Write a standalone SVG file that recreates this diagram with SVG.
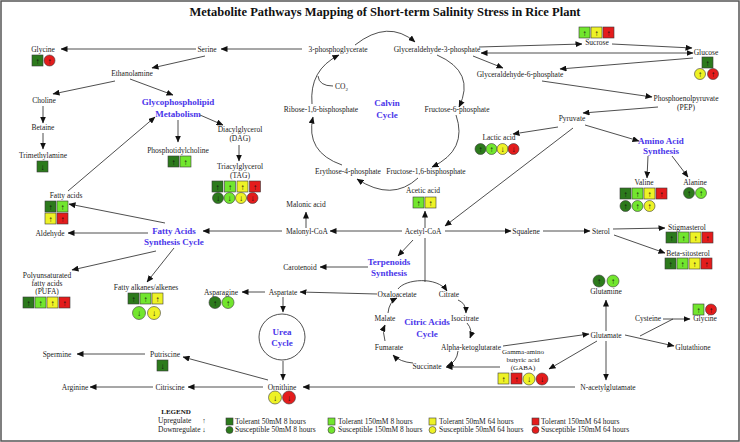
<svg xmlns="http://www.w3.org/2000/svg" width="740" height="442" viewBox="0 0 740 442">
<defs>
<marker id="ah" markerUnits="userSpaceOnUse" markerWidth="7" markerHeight="6" refX="6.5" refY="3" orient="auto">
<path d="M0,0 L7,3 L0,6 z" fill="#111"/>
</marker>
<marker id="as" markerUnits="userSpaceOnUse" markerWidth="7" markerHeight="6" refX="0.5" refY="3" orient="auto">
<path d="M7,0 L0,3 L7,6 z" fill="#111"/>
</marker>
</defs>
<style>
text{font-family:"Liberation Serif","Times New Roman",serif}
.t{font-size:7.5px;fill:#222;text-anchor:middle}
.ts{font-size:7px;fill:#222;text-anchor:middle}
.tl{font-size:7.5px;fill:#222;text-anchor:start}
.b{font-size:9px;font-weight:bold;fill:#4a35ea;text-anchor:middle}
.ttl{font-size:12.5px;font-weight:bold;fill:#111;text-anchor:middle}
.ln{stroke:#222;stroke-width:0.8;fill:none}
.a{marker-end:url(#ah)}
.ind{stroke:#3a3a3a;stroke-width:0.6}
.dg{fill:#2c7a1c}.lg{fill:#72e62e}.yl{fill:#eef226}.rd{fill:#e41c1c}
.ar{font-size:8px;fill:#111;text-anchor:middle}
</style>
<rect x="1" y="1" width="738" height="440" fill="#fff" stroke="#555" stroke-width="1.5"/>
<text class="ttl" x="385" y="16">Metabolite Pathways Mapping of Short-term Salinity Stress in Rice Plant</text>

<g id="connectors">
<path class="ln a" d="M196,49 L61,49"/>
<path class="ln a" d="M302,49 L221,49"/>
<path class="ln a" d="M205,56 L152,68"/>
<path class="ln a" d="M115,81 L53,94"/>
<path class="ln a" d="M130,79 L173,95"/>
<path class="ln a" d="M43,106 L43,123"/>
<path class="ln a" d="M43,133 L43,149"/>
<path class="ln a" d="M178,120 L178,142"/>
<path class="ln a" d="M200,115 L223,125"/>
<path class="ln a" d="M239,145 L239,161"/>
<path class="ln a" d="M68,191 L155,117"/>
<path class="ln a" d="M165,223 L69,204"/>
<path class="ln a" d="M282,231 L203,231"/>
<path class="ln a" d="M148,233 L68,233"/>
<path class="ln a" d="M156,251 L72,270"/>
<path class="ln a" d="M174,248 L147,282"/>
<path class="ln a" d="M306,228 L306,212"/>
<path class="ln a" d="M402,231 L330,231"/>
<path class="ln a" d="M425,228 L425,211"/>
<path class="ln a" d="M445,231 L511,231"/>
<path class="ln a" d="M543,231 L590,231"/>
<path class="ln a" d="M613,229 L665,228"/>
<path class="ln a" d="M614,235 L665,253"/>
<path class="ln a" d="M413,240 L398,256"/>
<path class="ln a" d="M368,267 L320,267"/>
<path class="ln" d="M425,238 L425,282"/>
<path class="ln a" d="M398,289 C405,279 437,276 447,291"/>
<path class="ln a" d="M377,294 L300,292"/>
<path class="ln a" d="M265,292 L242,292"/>
<path class="ln a" d="M283,297 L283,312"/>
<circle class="ln" cx="282" cy="337" r="23"/>
<path class="ln a" d="M283,361 L283,380"/>
<path class="ln a" d="M268,380 L183,357"/>
<path class="ln a" d="M263,387 L188,387"/>
<path class="ln a" d="M153,387 L90,387"/>
<path class="ln a" d="M145,354 L77,354"/>
<path class="ln a" d="M575,387 L303,387"/>
<path class="ln a" d="M458,300 Q466,303 466,313"/>
<path class="ln a" d="M467,323 Q473,330 470,338"/>
<path class="ln a" d="M458,351 Q457,362 447,366"/>
<path class="ln a" d="M413,363 Q400,362 393,355"/>
<path class="ln a" d="M385,341 Q382,332 385,325"/>
<path class="ln a" d="M388,313 Q389,302 397,298"/>
<path class="ln a" d="M500,367 L446,367"/>
<path class="ln a" d="M503,346 L589,334"/>
<path class="ln a" d="M606,331 L606,300"/>
<path class="ln a" d="M625,335 L674,346"/>
<path class="ln a" d="M597,341 L549,369"/>
<path class="ln a" d="M606,341 L606,380"/>
<path class="ln" d="M640,336 L673,319"/>
<path class="ln a" d="M663,319 L690,319"/>
<path class="ln a" d="M573,128 L445,226"/>
<path class="ln a" d="M558,127 L513,134"/>
<path class="ln a" d="M585,125 L639,141"/>
<path class="ln a" d="M648,156 L647,178"/>
<path class="ln a" d="M672,156 L688,177"/>
<path class="ln a" d="M658,107 L583,113"/>
<path class="ln a" d="M542,81 L652,97"/>
<path class="ln a" d="M693,58 L560,69"/>
<path class="ln a" d="M473,56 L503,68"/>
<path class="ln a" d="M479,47 L582,44"/>
<path class="ln a" d="M612,44 L692,48"/>
<path class="ln a" d="M481,53 L693,53" marker-start="url(#as)"/>
<path class="ln a" d="M355,45 Q388,19 415,42"/>
<path class="ln a" d="M437,55 Q476,72 459,107"/>
<path class="ln a" d="M456,115 Q468,150 432,167"/>
<path class="ln a" d="M418,178 Q392,202 357,179"/>
<path class="ln a" d="M342,165 Q305,152 313,117"/>
<path class="ln a" d="M312,104 Q309,70 339,55"/>
<path class="ln" d="M333,86 Q319,86 318,76"/>
</g>

<g id="glycine">
<text class="t" x="43" y="52">Glycine</text>
<rect class="ind dg" x="32" y="55" width="11" height="11"/><text class="ar" x="37.5" y="63.5">↑</text>
<circle class="ind rd" cx="49.5" cy="60.5" r="5.5"/><text class="ar" x="49.5" y="63.5">↑</text>
</g>
<g id="serine"><text class="t" x="207" y="52">Serine</text></g>
<g id="pg3"><text class="t" x="338" y="52">3-phosphoglycerate</text></g>
<g id="g3p"><text class="t" x="437" y="52">Glyceraldehyde-3-phosphate</text></g>
<g id="sucrose">
<text class="t" x="597" y="45">Sucrose</text>
<rect class="ind lg" x="579" y="27" width="11" height="11"/><text class="ar" x="584.5" y="35.5">↑</text>
<rect class="ind yl" x="591" y="27" width="11" height="11"/><text class="ar" x="596.5" y="35.5">↑</text>
<rect class="ind rd" x="603" y="27" width="11" height="11"/><text class="ar" x="608.5" y="35.5">↑</text>
</g>
<g id="glucose">
<text class="t" x="706" y="55">Glucose</text>
<rect class="ind dg" x="702" y="57" width="11" height="11"/><text class="ar" x="707.5" y="65.5">↑</text>
<circle class="ind yl" cx="700" cy="74" r="5.5"/><text class="ar" x="700" y="77">↑</text>
<circle class="ind rd" cx="713" cy="74" r="5.5"/><text class="ar" x="713" y="77">↑</text>
</g>
<g id="g6p"><text class="t" x="520" y="77">Glyceraldehyde-6-phosphate</text></g>
<g id="pep"><text class="t" x="686" y="101">Phosphoenolpyruvate</text><text class="t" x="686" y="110">(PEP)</text></g>
<g id="pyruvate"><text class="t" x="572" y="121">Pyruvate</text></g>
<g id="lactic">
<text class="t" x="499" y="140">Lactic acid</text>
<circle class="ind dg" cx="480.5" cy="149" r="5.5"/><text class="ar" x="480.5" y="152">↑</text>
<circle class="ind lg" cx="491.5" cy="149" r="5.5"/><text class="ar" x="491.5" y="152">↑</text>
<circle class="ind yl" cx="502.5" cy="149" r="5.5"/><text class="ar" x="502.5" y="152">↓</text>
<circle class="ind rd" cx="513.5" cy="149" r="5.5"/><text class="ar" x="513.5" y="152">↓</text>
</g>
<g id="aas"><text class="b" x="661" y="144">Amino Acid</text><text class="b" x="661" y="154">Synthesis</text></g>
<g id="valine">
<text class="t" x="644" y="185">Valine</text>
<rect class="ind dg" x="620" y="188" width="11" height="11"/><text class="ar" x="625.5" y="196.5">↑</text>
<rect class="ind lg" x="632" y="188" width="11" height="11"/><text class="ar" x="637.5" y="196.5">↑</text>
<rect class="ind yl" x="644" y="188" width="11" height="11"/><text class="ar" x="649.5" y="196.5">↑</text>
<rect class="ind rd" x="656" y="188" width="11" height="11"/><text class="ar" x="661.5" y="196.5">↑</text>
<circle class="ind dg" cx="625.5" cy="206" r="5.5"/><text class="ar" x="625.5" y="209">↑</text>
<circle class="ind lg" cx="637.5" cy="206" r="5.5"/><text class="ar" x="637.5" y="209">↑</text>
<circle class="ind yl" cx="649.5" cy="206" r="5.5"/><text class="ar" x="649.5" y="209">↑</text>
</g>
<g id="alanine">
<text class="t" x="695" y="185">Alanine</text>
<circle class="ind dg" cx="689" cy="193" r="5.5"/><text class="ar" x="689" y="196">↑</text>
<circle class="ind lg" cx="701" cy="193" r="5.5"/><text class="ar" x="701" y="196">↑</text>
</g>
<g id="ethanolamine"><text class="t" x="132" y="76">Ethanolamine</text></g>
<g id="choline"><text class="t" x="44" y="103">Choline</text></g>
<g id="glyco"><text class="b" x="178" y="105">Glycophospholipid</text><text class="b" x="178" y="117">Metabolism</text></g>
<g id="betaine"><text class="t" x="43" y="130">Betaine</text></g>
<g id="trimethylamine">
<text class="t" x="43" y="158">Trimethylamine</text>
<rect class="ind dg" x="37" y="161" width="11" height="11"/><text class="ar" x="42.5" y="169.5">↓</text>
</g>
<g id="phosphotidylcholine">
<text class="t" x="178" y="153">Phosphotidylcholine</text>
<rect class="ind dg" x="168" y="156" width="11" height="11"/><text class="ar" x="173.5" y="164.5">↑</text>
<rect class="ind lg" x="180" y="156" width="11" height="11"/><text class="ar" x="185.5" y="164.5">↑</text>
</g>
<g id="dag"><text class="t" x="240" y="132">Diacylglycerol</text><text class="t" x="240" y="141">(DAG)</text></g>
<g id="tag">
<text class="t" x="240" y="169">Triacylglycerol</text><text class="t" x="240" y="178">(TAG)</text>
<rect class="ind dg" x="212" y="181" width="11" height="11"/><text class="ar" x="217.5" y="189.5">↑</text>
<rect class="ind lg" x="224.5" y="181" width="11" height="11"/><text class="ar" x="230" y="189.5">↑</text>
<rect class="ind yl" x="237" y="181" width="11" height="11"/><text class="ar" x="242.5" y="189.5">↑</text>
<rect class="ind rd" x="249.5" y="181" width="11" height="11"/><text class="ar" x="255" y="189.5">↑</text>
<circle class="ind dg" cx="218" cy="198" r="5.5"/><text class="ar" x="218" y="201">↓</text>
<circle class="ind lg" cx="229.5" cy="198" r="5.5"/><text class="ar" x="229.5" y="201">↓</text>
<circle class="ind yl" cx="241" cy="198" r="5.5"/><text class="ar" x="241" y="201">↓</text>
<circle class="ind rd" cx="252.5" cy="198" r="5.5"/><text class="ar" x="252.5" y="201">↓</text>
</g>
<g id="fattyacids">
<text class="t" x="66" y="198">Fatty acids</text>
<rect class="ind dg" x="45" y="201" width="11" height="11"/><text class="ar" x="50.5" y="209.5">↑</text>
<rect class="ind lg" x="57" y="201" width="11" height="11"/><text class="ar" x="62.5" y="209.5">↑</text>
<rect class="ind yl" x="45" y="213" width="11" height="11"/><text class="ar" x="50.5" y="221.5">↑</text>
<rect class="ind rd" x="57" y="213" width="11" height="11"/><text class="ar" x="62.5" y="221.5">↑</text>
</g>
<g id="fasc"><text class="b" x="174" y="234">Fatty Acids</text><text class="b" x="174" y="245">Synthesis Cycle</text></g>
<g id="aldehyde"><text class="t" x="50" y="236">Aldehyde</text></g>
<g id="malonic"><text class="t" x="306" y="207">Malonic acid</text></g>
<g id="malonylcoa"><text class="t" x="307" y="234">Malonyl-CoA</text></g>
<g id="acetic">
<text class="t" x="423" y="193">Acetic acid</text>
<rect class="ind lg" x="413" y="197" width="11" height="11"/><text class="ar" x="418.5" y="205.5">↑</text>
<rect class="ind yl" x="425" y="197" width="11" height="11"/><text class="ar" x="430.5" y="205.5">↑</text>
</g>
<g id="acetylcoa"><text class="t" x="423" y="234">Acetyl-CoA</text></g>
<g id="squalene"><text class="t" x="526" y="234">Squalene</text></g>
<g id="sterol"><text class="t" x="601" y="234">Sterol</text></g>
<g id="stigmasterol">
<text class="t" x="687" y="230">Stigmasterol</text>
<rect class="ind dg" x="666" y="232" width="11" height="11"/><text class="ar" x="671.5" y="240.5">↑</text>
<rect class="ind lg" x="678" y="232" width="11" height="11"/><text class="ar" x="683.5" y="240.5">↑</text>
<rect class="ind yl" x="690" y="232" width="11" height="11"/><text class="ar" x="695.5" y="240.5">↑</text>
<rect class="ind rd" x="702" y="232" width="11" height="11"/><text class="ar" x="707.5" y="240.5">↑</text>
</g>
<g id="betasitosterol">
<text class="t" x="688" y="256">Beta-sitosterol</text>
<rect class="ind dg" x="665" y="258" width="11" height="11"/><text class="ar" x="670.5" y="266.5">↑</text>
<rect class="ind lg" x="677" y="258" width="11" height="11"/><text class="ar" x="682.5" y="266.5">↑</text>
<rect class="ind yl" x="689" y="258" width="11" height="11"/><text class="ar" x="694.5" y="266.5">↑</text>
<rect class="ind rd" x="701" y="258" width="11" height="11"/><text class="ar" x="706.5" y="266.5">↑</text>
</g>
<g id="terpenoids"><text class="b" x="389" y="265">Terpenoids</text><text class="b" x="389" y="276">Synthesis</text></g>
<g id="carotenoid"><text class="t" x="300" y="270">Carotenoid</text></g>
<g id="pufa">
<text class="t" x="47" y="278">Polyunsaturated</text><text class="t" x="47" y="286">fatty acids</text><text class="t" x="47" y="294">(PUFA)</text>
<rect class="ind dg" x="23" y="297" width="11" height="11"/><text class="ar" x="28.5" y="305.5">↑</text>
<rect class="ind lg" x="35" y="297" width="11" height="11"/><text class="ar" x="40.5" y="305.5">↑</text>
<rect class="ind yl" x="47" y="297" width="11" height="11"/><text class="ar" x="52.5" y="305.5">↑</text>
<rect class="ind rd" x="59" y="297" width="11" height="11"/><text class="ar" x="64.5" y="305.5">↑</text>
</g>
<g id="alkanes">
<text class="t" x="146" y="290">Fatty alkanes/alkenes</text>
<rect class="ind dg" x="128" y="293" width="11" height="11"/><text class="ar" x="133.5" y="301.5">↑</text>
<rect class="ind lg" x="140" y="293" width="11" height="11"/><text class="ar" x="145.5" y="301.5">↑</text>
<rect class="ind yl" x="152" y="293" width="11" height="11"/><text class="ar" x="157.5" y="301.5">↑</text>
<circle class="ind lg" cx="139" cy="313" r="6.5"/><text class="ar" x="139" y="316">↓</text>
<circle class="ind yl" cx="154" cy="313" r="6.5"/><text class="ar" x="154" y="316">↓</text>
</g>
<g id="asparagine">
<text class="t" x="221" y="295">Asparagine</text>
<circle class="ind dg" cx="215" cy="302.5" r="6"/><text class="ar" x="215" y="305.5">↑</text>
<circle class="ind lg" cx="228" cy="302.5" r="6"/><text class="ar" x="228" y="305.5">↑</text>
</g>
<g id="aspartate"><text class="t" x="283" y="295">Aspartate</text></g>
<g id="oxaloacetate"><text class="t" x="397" y="297">Oxaloacetate</text></g>
<g id="citrate"><text class="t" x="449" y="297">Citrate</text></g>
<g id="glutamine">
<text class="t" x="606" y="294">Glutamine</text>
<circle class="ind dg" cx="599" cy="281" r="6"/><text class="ar" x="599" y="284">↑</text>
<circle class="ind lg" cx="613" cy="281" r="6"/><text class="ar" x="613" y="284">↑</text>
</g>
<g id="malate"><text class="t" x="385" y="321">Malate</text></g>
<g id="isocitrate"><text class="t" x="465" y="321">Isocitrate</text></g>
<g id="citriccycle"><text class="b" x="427" y="325">Citric Acids</text><text class="b" x="427" y="337">Cycle</text></g>
<g id="cysteine"><text class="t" x="648" y="321">Cysteine</text></g>
<g id="glycine2">
<text class="t" x="705" y="321">Glycine</text>
<rect class="ind lg" x="693" y="304" width="11" height="11"/><text class="ar" x="698.5" y="312.5">↑</text>
<circle class="ind rd" cx="711" cy="309.5" r="5.5"/><text class="ar" x="711" y="312.5">↑</text>
</g>
<g id="ureacycle"><text class="b" x="282" y="335">Urea</text><text class="b" x="282" y="346">Cycle</text></g>
<g id="glutamate"><text class="t" x="606" y="338">Glutamate</text></g>
<g id="fumarate"><text class="t" x="389" y="350">Fumarate</text></g>
<g id="akg"><text class="t" x="471" y="350">Alpha-ketoglutarate</text></g>
<g id="glutathione"><text class="t" x="693" y="350">Glutathione</text></g>
<g id="gaba">
<text class="ts" x="523" y="354">Gamma-amino</text><text class="ts" x="523" y="362.2">butyric acid</text><text class="ts" x="523" y="370.4">(GABA)</text>
<rect class="ind yl" x="498" y="373" width="11" height="11"/><text class="ar" x="503.5" y="381.5">↑</text>
<rect class="ind rd" x="511" y="373" width="11" height="11"/><text class="ar" x="516.5" y="381.5">↑</text>
<circle class="ind yl" cx="529" cy="379" r="6"/><text class="ar" x="529" y="382">↓</text>
<circle class="ind rd" cx="542" cy="379" r="6"/><text class="ar" x="542" y="382">↓</text>
</g>
<g id="succinate"><text class="t" x="427" y="369">Succinate</text></g>
<g id="spermine"><text class="t" x="57" y="357">Spermine</text></g>
<g id="putriscine">
<text class="t" x="165" y="357">Putriscine</text>
<rect class="ind dg" x="157" y="360" width="11" height="11"/><text class="ar" x="162.5" y="368.5">↓</text>
</g>
<g id="ornithine">
<text class="t" x="282" y="390">Ornithine</text>
<circle class="ind yl" cx="275" cy="397.5" r="6.5"/><text class="ar" x="275" y="400.5">↓</text>
<circle class="ind rd" cx="289" cy="397.5" r="6.5"/><text class="ar" x="289" y="400.5">↓</text>
</g>
<g id="citriscine"><text class="t" x="170" y="390">Citriscine</text></g>
<g id="arginine"><text class="t" x="75" y="390">Arginine</text></g>
<g id="nacetyl"><text class="t" x="608" y="390">N-acetylglutamate</text></g>
<g id="calvin"><text class="b" x="387" y="106">Calvin</text><text class="b" x="387" y="118">Cycle</text></g>
<g id="f6p"><text class="t" x="457" y="112">Fructose-6-phosphate</text></g>
<g id="f16bp"><text class="t" x="426" y="174">Fructose-1,6-bisphosphate</text></g>
<g id="e4p"><text class="t" x="348" y="174">Erythose-4-phosphate</text></g>
<g id="ribose"><text class="t" x="321" y="112">Ribose-1,6-bisphosphate</text></g>
<g id="co2"><text class="tl" x="335" y="89">CO<tspan font-size="5" dy="1.5">2</tspan></text></g>

<g id="legend">
<text x="176" y="414" style="font-size:7px;font-weight:bold;fill:#111;text-anchor:middle">LEGEND</text>
<text class="tl" x="158" y="423">Upregulate</text><text class="ar" x="204" y="423" style="font-size:7px">↑</text>
<text class="tl" x="158" y="432">Downregulate</text><text class="ar" x="204" y="432" style="font-size:7px">↓</text>
<rect class="ind dg" x="226" y="418" width="7" height="7"/><circle class="ind dg" cx="229.5" cy="430" r="3.5"/>
<text class="tl" x="235" y="424">Tolerant 50mM 8 hours</text><text class="tl" x="235" y="432">Susceptible 50mM 8 hours</text>
<rect class="ind lg" x="328" y="418" width="7" height="7"/><circle class="ind lg" cx="331.5" cy="430" r="3.5"/>
<text class="tl" x="338" y="424">Tolerant 150mM 8 hours</text><text class="tl" x="338" y="432">Susceptible 150mM 8 hours</text>
<rect class="ind yl" x="429" y="418" width="7" height="7"/><circle class="ind yl" cx="432.5" cy="430" r="3.5"/>
<text class="tl" x="439" y="424">Tolerant 50mM 64 hours</text><text class="tl" x="439" y="432">Susceptible 50mM 64 hours</text>
<rect class="ind rd" x="532" y="418" width="7" height="7"/><circle class="ind rd" cx="535.5" cy="430" r="3.5"/>
<text class="tl" x="541" y="424">Tolerant 150mM 64 hours</text><text class="tl" x="541" y="432">Susceptible 150mM 64 hours</text>
</g>
</svg>
